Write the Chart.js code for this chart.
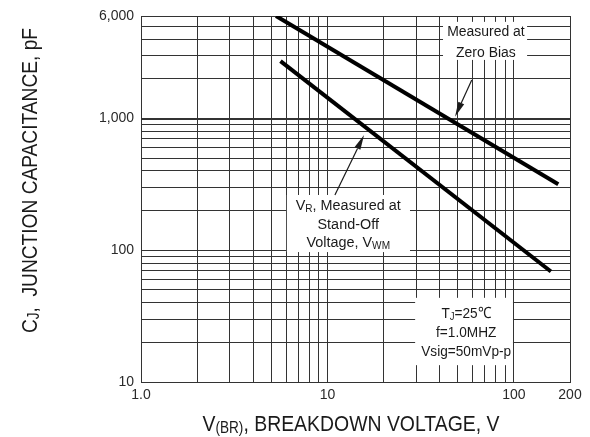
<!DOCTYPE html>
<html>
<head>
<meta charset="utf-8">
<script src="https://cdn.jsdelivr.net/npm/chart.js@4.4.1/dist/chart.umd.min.js"></script>
<style>
  html, body { margin: 0; padding: 0; background: #fff; }
  #wrap { width: 590px; height: 437px; }
</style>
</head>
<body>
<div id="wrap"><canvas id="chart"></canvas></div>
<script>
// V(BR) in volts, CJ in pF
const zeroBiasV = [5.3, 173];
const zeroBiasC = [6000, 317];
const standOffV = [5.6, 158];
const standOffC = [2730, 69];

const xTicks = [1, 2, 3, 4, 5, 6, 7, 8, 9, 10, 20, 30, 40, 50, 60, 70, 80, 90, 100, 200];
const yTicks = [10, 20, 30, 40, 50, 60, 70, 80, 90, 100, 200, 300, 400, 500, 600, 700, 800, 900,
  1000, 2000, 3000, 4000, 5000, 6000];
const xLabels = { 1: '1.0', 10: '10', 100: '100', 200: '200' };
const yLabels = { 10: '10', 100: '100', 1000: '1,000', 6000: '6,000' };

// note texts, segments flagged sub are drawn as subscripts
const zeroBiasNote = [[{ t: 'Measured at' }], [{ t: 'Zero Bias' }]];
const standOffNote = [
  [{ t: 'V' }, { t: 'R', sub: true }, { t: ', Measured at' }],
  [{ t: 'Stand-Off' }],
  [{ t: 'Voltage, V' }, { t: 'WM', sub: true }]
];
const testNote = [
  [{ t: 'T' }, { t: 'J', sub: true }, { t: '=25℃' }],
  [{ t: 'f=1.0MHZ' }],
  [{ t: 'Vsig=50mVp-p' }]
];
const xTitle = [{ t: 'V' }, { t: '(BR)', sub: true }, { t: ', BREAKDOWN VOLTAGE, V' }];
const yTitle = [{ t: 'C' }, { t: 'J', sub: true }, { t: ',  JUNCTION CAPACITANCE, pF' }];

const FONT = '"Liberation Sans", Arial, sans-serif';
const INK = '#1a1a1a';
const GRID = '#333';

function toPoints(xs, ys) {
  return xs.map((x, i) => ({ x, y: ys[i] }));
}

// draws a run of text segments; width forces a horizontal squeeze
function drawRich(ctx, segs, x, y, size, opts) {
  const o = opts || {};
  const parts = segs.map(s => {
    const fs = s.sub ? size * 0.7 : size;
    ctx.font = fs + 'px ' + FONT;
    return { s, fs, w: ctx.measureText(s.t).width };
  });
  const total = parts.reduce((a, p) => a + p.w, 0);
  const k = o.width ? o.width / total : (o.squeeze || 1);
  ctx.save();
  ctx.translate(x, y);
  if (o.rotate) ctx.rotate(o.rotate);
  ctx.scale(k, 1);
  ctx.fillStyle = INK;
  ctx.textBaseline = 'alphabetic';
  ctx.textAlign = 'left';
  let cx = o.align === 'left' ? 0 : -total / 2;
  const base = size * 0.36;
  parts.forEach(p => {
    ctx.font = p.fs + 'px ' + FONT;
    ctx.fillText(p.s.t, cx, base + (p.s.sub ? size * 0.1 : 0));
    cx += p.w;
  });
  ctx.restore();
}

function arrow(ctx, x0, y0, x1, y1) {
  const ang = Math.atan2(y1 - y0, x1 - x0);
  const len = 15, hw = 3.2;
  ctx.save();
  ctx.strokeStyle = INK;
  ctx.fillStyle = INK;
  ctx.lineWidth = 1.2;
  ctx.beginPath();
  ctx.moveTo(x0, y0);
  ctx.lineTo(x1 - Math.cos(ang) * len, y1 - Math.sin(ang) * len);
  ctx.stroke();
  ctx.translate(x1, y1);
  ctx.rotate(ang);
  ctx.beginPath();
  ctx.moveTo(0, 0);
  ctx.lineTo(-len, -hw);
  ctx.lineTo(-len, hw);
  ctx.closePath();
  ctx.fill();
  ctx.restore();
}

// boxes, notes and axis titles, placed as fractions of the plot area
const notesPlugin = {
  id: 'notes',
  beforeDatasetsDraw(chart) {
    const { ctx, chartArea: a } = chart;
    const px = f => a.left + f * (a.right - a.left);
    const py = f => a.top + f * (a.bottom - a.top);
    ctx.save();
    ctx.fillStyle = '#fff';
    [[0.704, 0.016, 0.900, 0.120], [0.340, 0.489, 0.627, 0.645], [0.639, 0.770, 0.867, 0.954]]
      .forEach(b => ctx.fillRect(px(b[0]), py(b[1]), px(b[2]) - px(b[0]), py(b[3]) - py(b[1])));
    ctx.restore();
  },
  afterDraw(chart) {
    const { ctx, chartArea: a } = chart;
    const px = f => a.left + f * (a.right - a.left);
    const py = f => a.top + f * (a.bottom - a.top);

    [0.040, 0.0975].forEach((fy, i) => drawRich(ctx, zeroBiasNote[i], px(0.804), py(fy), 15.5, { squeeze: 0.9 }));
    [0.516, 0.566, 0.617].forEach((fy, i) => drawRich(ctx, standOffNote[i], px(0.483), py(fy), 15.5, { squeeze: 0.93 }));
    [0.811, 0.863, 0.913].forEach((fy, i) => drawRich(ctx, testNote[i], px(0.758), py(fy), 15.5, { squeeze: 0.88 }));

    arrow(ctx, px(0.771), py(0.175), px(0.732), py(0.275));
    arrow(ctx, px(0.452), py(0.489), px(0.520), py(0.325));

    drawRich(ctx, xTitle, 351, 423, 22.5, { width: 297 });
    drawRich(ctx, yTitle, 28.5, 180.5, 22.5, { width: 305, rotate: -Math.PI / 2 });
  }
};

const tickFont = { family: FONT, size: 14 };

new Chart(document.getElementById('chart'), {
  type: 'line',
  data: {
    datasets: [
      {
        label: 'Measured at Zero Bias',
        data: toPoints(zeroBiasV, zeroBiasC),
        borderColor: '#000',
        borderWidth: 4,
        pointRadius: 0,
        fill: false
      },
      {
        label: 'VR, Measured at Stand-Off Voltage, VWM',
        data: toPoints(standOffV, standOffC),
        borderColor: '#000',
        borderWidth: 4,
        pointRadius: 0,
        fill: false
      }
    ]
  },
  options: {
    responsive: true,
    maintainAspectRatio: false,
    animation: false,
    layout: { padding: { top: 16, right: 20, left: 0, bottom: 0 } },
    plugins: { legend: { display: false }, tooltip: { enabled: false } },
    scales: {
      x: {
        type: 'logarithmic',
        min: 1,
        max: 200,
        afterBuildTicks: s => { s.ticks = xTicks.map(v => ({ value: v })); },
        afterFit: s => { s.height = 55; },
        ticks: {
          autoSkip: false,
          maxRotation: 0,
          padding: 5,
          color: '#2a2a2a',
          font: tickFont,
          callback: v => xLabels[v] || ''
        },
        grid: { color: GRID, lineWidth: 1, drawTicks: false },
        border: { color: GRID, width: 1 }
      },
      y: {
        type: 'logarithmic',
        min: 10,
        max: 6000,
        afterBuildTicks: s => { s.ticks = yTicks.map(v => ({ value: v })); },
        afterFit: s => { s.width = 141; },
        ticks: {
          autoSkip: false,
          padding: 7,
          color: '#2a2a2a',
          font: tickFont,
          callback: v => yLabels[v] || ''
        },
        grid: {
          color: GRID,
          lineWidth: c => (c.tick && c.tick.value === 1000 ? 2 : 1),
          drawTicks: false
        },
        border: { color: GRID, width: 1 }
      }
    }
  },
  plugins: [notesPlugin]
});
</script>
</body>
</html>
